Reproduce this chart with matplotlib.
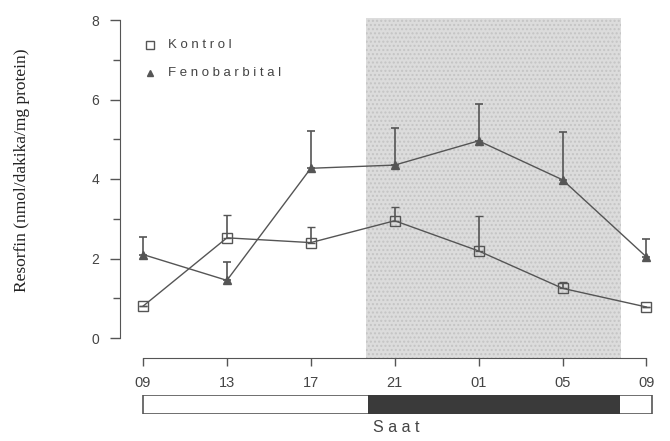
import numpy as np
import matplotlib.pyplot as plt
from matplotlib.patches import Rectangle

# Data
saat = ['09', '13', '17', '21', '01', '05', '09']
kontrol = [0.80, 2.52, 2.40, 2.95, 2.19, 1.25, 0.78]
kontrol_err = [0.0, 0.57, 0.40, 0.35, 0.88, 0.15, 0.0]
feno = [2.10, 1.45, 4.27, 4.35, 4.96, 3.98, 2.04]
feno_err = [0.45, 0.45, 0.95, 0.93, 0.93, 1.20, 0.45]

# dark phase (in units of the 4-hour tick spacing)
dark_start, dark_end = 2.66, 5.70

line_col = '#555555'
text_col = '#444444'
sans = 'Liberation Sans'

fig = plt.figure(figsize=(6.7, 4.41), dpi=100)
W, H = 670, 441

# pixel mapping: x index 0 -> 143px, step 83.9px; y 0 -> 338px, 8 -> 20px
x0px, dxpx = 143, 83.9
ax_left, ax_right, ax_top, ax_bot = 120, 662, 16, 358
ax = fig.add_axes([ax_left / W, 1 - ax_bot / H, (ax_right - ax_left) / W, (ax_bot - ax_top) / H])
ax.set_xlim((ax_left - x0px) / dxpx, (ax_right - x0px) / dxpx)
ypx = 318 / 8
ax.set_ylim(-(ax_bot - 338) / ypx, (338 - ax_top) / ypx)

x = np.arange(len(saat))

# shaded night region
ax.add_patch(Rectangle((dark_start, ax.get_ylim()[0]), dark_end - dark_start,
                       8.05 - ax.get_ylim()[0], facecolor='#dcdcdc', edgecolor='#c4c4c4',
                       hatch='....', linewidth=0, zorder=0))

ax.errorbar(x, kontrol, yerr=[np.zeros(len(x)), kontrol_err], color=line_col, lw=1.0,
            marker='s', ms=7, mfc='none', mec=line_col, mew=1.0,
            ecolor=line_col, elinewidth=1.2, capsize=3, capthick=1.2, zorder=3)
ax.errorbar(x, feno, yerr=[np.zeros(len(x)), feno_err], color=line_col, lw=1.0,
            marker='^', ms=6, mfc=line_col, mec=line_col,
            ecolor=line_col, elinewidth=1.2, capsize=3, capthick=1.2, zorder=3)

for s in ['top', 'right']:
    ax.spines[s].set_visible(False)
ax.spines['left'].set_bounds(0, 8)
ax.spines['bottom'].set_bounds(0, 6)
ax.spines['left'].set_color(line_col)
ax.spines['bottom'].set_color(line_col)

ax.set_yticks([0, 2, 4, 6, 8])
ax.set_yticks([1, 3, 5, 7], minor=True)
ax.set_xticks(x)
ax.set_xticklabels(saat)
ax.tick_params(axis='y', which='major', length=7, width=1, color=line_col, pad=8,
               labelsize=10, labelcolor=text_col)
ax.tick_params(axis='y', which='minor', length=5, width=1, color=line_col)
ax.tick_params(axis='x', length=6, width=1, color=line_col, pad=7,
               labelsize=10.5, labelcolor=text_col)
for lab in ax.get_xticklabels() + ax.get_yticklabels():
    lab.set_fontfamily(sans)

# legend
ax.plot([(150 - x0px) / dxpx], [(338 - 45) / ypx], marker='s', ms=6, mfc='none',
        mec=line_col, mew=1.0, ls='none')
ax.plot([(150 - x0px) / dxpx], [(338 - 73) / ypx], marker='^', ms=5, mfc=line_col,
        mec=line_col, ls='none')
ax.text((168 - x0px) / dxpx, (338 - 45) / ypx, 'K o n t r o l', fontsize=9.5,
        family=sans, color=text_col, va='center')
ax.text((168 - x0px) / dxpx, (338 - 73) / ypx, 'F e n o b a r b i t a l', fontsize=9.5,
        family=sans, color=text_col, va='center')

# light/dark bar
bar = fig.add_axes([ax_left / W, 1 - 414 / H, (ax_right - ax_left) / W, 19 / H])
bar.set_xlim(ax.get_xlim())
bar.set_ylim(0, 1)
bar.axis('off')
bar.add_patch(Rectangle((0, 0), 6.07, 1, facecolor='white', edgecolor=line_col, lw=1.2))
bar.add_patch(Rectangle((dark_start + 0.02, 0), dark_end - dark_start - 0.04, 1,
                        facecolor='#3a3a3a', edgecolor='none'))

fig.text(396 / W, 1 - 428 / H, 'S a a t', ha='center', va='center', fontsize=11.5,
         family=sans, color=text_col)
fig.text(22 / W, 1 - 170 / H, 'Resorfin (nmol/dakika/mg protein)', rotation=90,
         ha='center', va='center', fontsize=12.5, family='Liberation Serif', color='#222222')

fig.savefig('out.png', dpi=100)
